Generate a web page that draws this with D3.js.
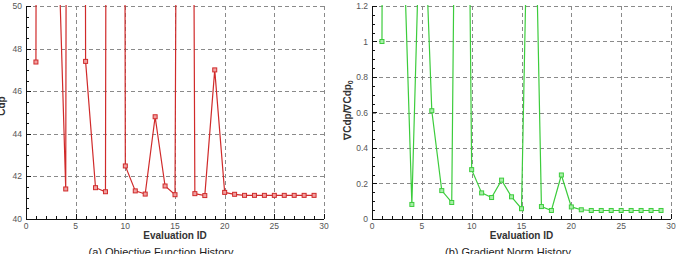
<!DOCTYPE html>
<html><head><meta charset="utf-8">
<script src="https://cdn.jsdelivr.net/npm/d3@7"></script>
<style>
html,body{margin:0;padding:0;background:#fff;}
svg{display:block;font-family:"Liberation Sans",Arial,Helvetica,sans-serif;}
</style></head>
<body><svg id="c" width="677" height="254"></svg>
<script>
const evalIds = [1,2,3,4,5,6,7,8,9,10,11,12,13,14,15,16,17,18,19,20,21,22,23,24,25,26,27,28,29];
const cdpValues = [47.37,300,57,41.41,300,47.4,41.47,41.28,300,42.49,41.32,41.17,44.8,41.55,41.14,150,41.19,41.1,47.0,41.25,41.16,41.11,41.11,41.11,41.11,41.11,41.11,41.11,41.11];
const gradValues = [1.0,20,1.88,0.082,2.1,0.61,0.16,0.093,6,0.278,0.147,0.121,0.219,0.125,0.058,2.9,0.07,0.048,0.248,0.068,0.052,0.048,0.048,0.048,0.048,0.048,0.048,0.048,0.048];
const xTicks = [0,5,10,15,20,25,30];
const cdpTicks = [40,42,44,46,48,50];
const gradTicks = [0,0.2,0.4,0.6,0.8,1,1.2];
const gradTickLabels = ["0","0.2","0.4","0.6","0.8","1","1.2"];

const svg = d3.select("#c");

function panel(opt){
  const g = svg.append("g");
  const x = d3.scaleLinear().domain([0,30]).range([opt.x0,opt.x1]);
  const y = d3.scaleLinear().domain(opt.ydom).range([opt.y1,opt.y0]);
  // grid
  const grid = g.append("g").attr("stroke","#8a8a8a").attr("stroke-width",1).attr("stroke-dasharray","4,3");
  xTicks.filter(t=>t>0).forEach(t=>{
    grid.append("line").attr("x1",Math.round(x(t))+0.5).attr("x2",Math.round(x(t))+0.5).attr("y1",opt.y0).attr("y2",opt.y1);
  });
  opt.yticks.filter(t=>t>opt.ydom[0]).forEach(t=>{
    grid.append("line").attr("x1",opt.x0).attr("x2",opt.x1).attr("y1",Math.round(y(t))+0.5).attr("y2",Math.round(y(t))+0.5);
  });
  // axes
  const ax = g.append("g").attr("stroke","#111").attr("stroke-width",1);
  ax.append("line").attr("x1",opt.x0+0.5).attr("x2",opt.x0+0.5).attr("y1",opt.y0).attr("y2",opt.y1+0.5);
  ax.append("line").attr("x1",opt.x0).attr("x2",opt.x1).attr("y1",opt.y1+0.5).attr("y2",opt.y1+0.5);
  // x ticks
  d3.range(0,31,1).forEach(t=>{
    const major = t%5===0;
    const px = Math.round(x(t))+0.5;
    ax.append("line").attr("x1",px).attr("x2",px).attr("y1",opt.y1).attr("y2",opt.y1-(major?5:3));
  });
  // y ticks
  const ystep = (opt.yticks[1]-opt.yticks[0])/4;
  d3.range(0, Math.round((opt.ydom[1]-opt.ydom[0])/ystep)+1).forEach(i=>{
    const v = opt.ydom[0]+i*ystep;
    const major = i%4===0;
    const py = Math.round(y(v))+0.5;
    ax.append("line").attr("x1",opt.x0).attr("x2",opt.x0+(major?5:3)).attr("y1",py).attr("y2",py);
  });
  // labels
  const lab = g.append("g").attr("fill","#555").attr("font-size","8.5px");
  xTicks.forEach(t=>{
    lab.append("text").attr("x",x(t)).attr("y",opt.y1+10).attr("text-anchor","middle").text(t);
  });
  opt.yticks.forEach((t,i)=>{
    lab.append("text").attr("x",opt.x0-4).attr("y",y(t)+3).attr("text-anchor","end").text(opt.ylabels[i]);
  });
  // clip
  const cid = "clip"+opt.id;
  svg.append("clipPath").attr("id",cid).append("rect")
    .attr("x",opt.x0).attr("y",opt.y0-1).attr("width",opt.x1-opt.x0+3).attr("height",opt.y1-opt.y0+1);
  const pg = g.append("g").attr("clip-path",`url(#${cid})`);
  const data = evalIds.map((d,i)=>({x:d,y:opt.values[i]}));
  pg.append("path").datum(data)
    .attr("fill","none").attr("stroke",opt.color).attr("stroke-width",1.2)
    .attr("d",d3.line().x(d=>x(d.x)).y(d=>y(d.y)));
  pg.selectAll("rect.m").data(data).enter().append("rect")
    .attr("x",d=>x(d.x)-2).attr("y",d=>y(d.y)-2).attr("width",4).attr("height",4)
    .attr("fill",opt.fill).attr("stroke",opt.color).attr("stroke-width",1);
  // axis title
  g.append("text").attr("x",(opt.x0+opt.x1)/2).attr("y",opt.y1+20).attr("text-anchor","middle")
    .attr("font-size","10px").attr("font-weight","bold").attr("fill","#333").text("Evaluation ID");
  // caption
  g.append("text").attr("x",opt.capX).attr("y",256).attr("text-anchor","middle")
    .attr("font-size","11px").attr("fill","#222").text(opt.caption);
  return {g,x,y};
}

const p1 = panel({id:1,x0:26,x1:324,y0:6,y1:219,ydom:[40,50],yticks:cdpTicks,ylabels:cdpTicks.map(String),
  values:cdpValues,color:"#d02a2a",fill:"#f0a0a0",caption:"(a) Objective Function History",capX:161});
p1.g.append("text").attr("transform","translate(5,106) rotate(-90)").attr("text-anchor","middle")
  .attr("font-size","10px").attr("font-weight","bold").attr("fill","#333").text("Cdp");

const p2 = panel({id:2,x0:372,x1:671,y0:6,y1:219,ydom:[0,1.2],yticks:gradTicks,ylabels:gradTickLabels,
  values:gradValues,color:"#3ccc3c",fill:"#a8eea8",caption:"(b) Gradient Norm History",capX:508});
const yl = p2.g.append("text").attr("transform","translate(351,110) rotate(-90)").attr("text-anchor","middle")
  .attr("font-size","10px").attr("font-weight","bold").attr("fill","#333");
yl.append("tspan").text("\u2207Cdp/\u2207Cdp");
yl.append("tspan").attr("font-size","7px").attr("dy","2").text("0");
</script></body></html>
